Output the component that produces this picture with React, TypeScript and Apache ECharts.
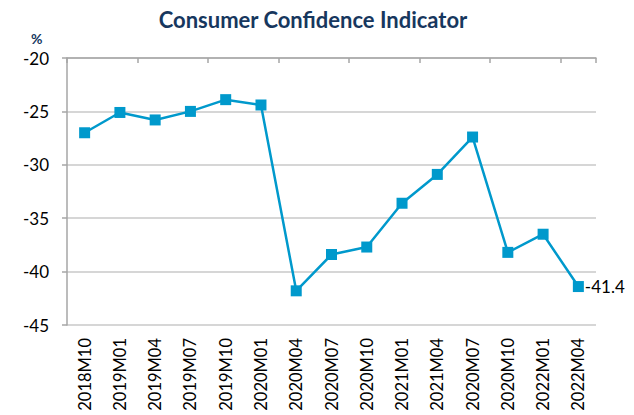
import React, { useEffect, useRef } from "react";
import * as echarts from "echarts";

const categories = [
  "2018M10", "2019M01", "2019M04", "2019M07", "2019M10", "2020M01", "2020M04",
  "2020M07", "2020M10", "2021M01", "2021M04", "2020M07", "2020M10", "2022M01", "2022M04",
];
const values = [
  -27.0, -25.1, -25.8, -25.0, -23.9, -24.4, -41.8, -38.4, -37.7, -33.6, -30.9, -27.4, -38.2, -36.5, -41.4,
];
const yMin = -45;
const yMax = -20;
const yStep = 5;
const titleText = "Consumer Confidence Indicator";
const unitText = "%";

const FONT = "Lato, 'Liberation Sans', sans-serif";

export default function App() {
  const ref = useRef<HTMLDivElement>(null);
  useEffect(() => {
    if (!ref.current) return;
    const chart = echarts.init(ref.current, null, { renderer: "svg" });
    const lastIdx = values.length - 1;
    chart.setOption({
      animation: false,
      backgroundColor: "#ffffff",
      title: {
        text: titleText,
        left: 308,
        top: 3,
        textAlign: "center",
        textStyle: { fontFamily: FONT, fontWeight: "bold", fontSize: 22, color: "#17375E" },
      },
      graphic: [
        {
          type: "text",
          left: 31,
          top: 31,
          style: { text: unitText, fontFamily: FONT, fontWeight: "bold", fontSize: 14, fill: "#17375E" },
        },
      ],
      grid: { left: 67, top: 58, right: 38, bottom: 90, containLabel: false },
      xAxis: [
        {
          type: "category",
          data: categories,
          position: "top",
          boundaryGap: true,
          axisLine: { show: true, lineStyle: { color: "#a6a6a6", width: 1.5 } },
          axisTick: { show: true, inside: true, length: 5, lineStyle: { color: "#a6a6a6", width: 1.5 } },
          axisLabel: { show: false },
          splitLine: { show: false },
        },
        {
          type: "category",
          data: categories,
          position: "bottom",
          boundaryGap: true,
          axisLine: { show: false },
          axisTick: { show: false },
          axisLabel: {
            show: true,
            rotate: 90,
            interval: 0,
            margin: 13,
            fontFamily: FONT,
            fontSize: 16.5,
            color: "#000000",
          },
        },
      ],
      yAxis: {
        type: "value",
        min: yMin,
        max: yMax,
        interval: yStep,
        axisLine: { show: true, lineStyle: { color: "#a6a6a6", width: 1.5 } },
        axisTick: { show: true, length: 5, lineStyle: { color: "#a6a6a6", width: 1.5 } },
        axisLabel: { fontFamily: FONT, fontSize: 17, color: "#000000", margin: 18 },
        splitLine: { show: true, lineStyle: { color: "#c8c8c8", width: 1.5 } },
      },
      series: [
        {
          type: "line",
          xAxisIndex: 0,
          data: values.map((v, i) =>
            i === lastIdx
              ? {
                  value: v,
                  label: {
                    show: true,
                    position: "right",
                    distance: 1,
                    formatter: (p: any) => String(p.value),
                    fontFamily: FONT,
                    fontSize: 17,
                    color: "#000000",
                  },
                }
              : v
          ),
          symbol: "rect",
          symbolSize: 11,
          lineStyle: { color: "#0099CC", width: 2.5 },
          itemStyle: { color: "#0099CC" },
        },
      ],
    });
    return () => chart.dispose();
  }, []);
  return <div ref={ref} style={{ width: 634, height: 415, position: "absolute", left: 0, top: 0 }} />;
}
